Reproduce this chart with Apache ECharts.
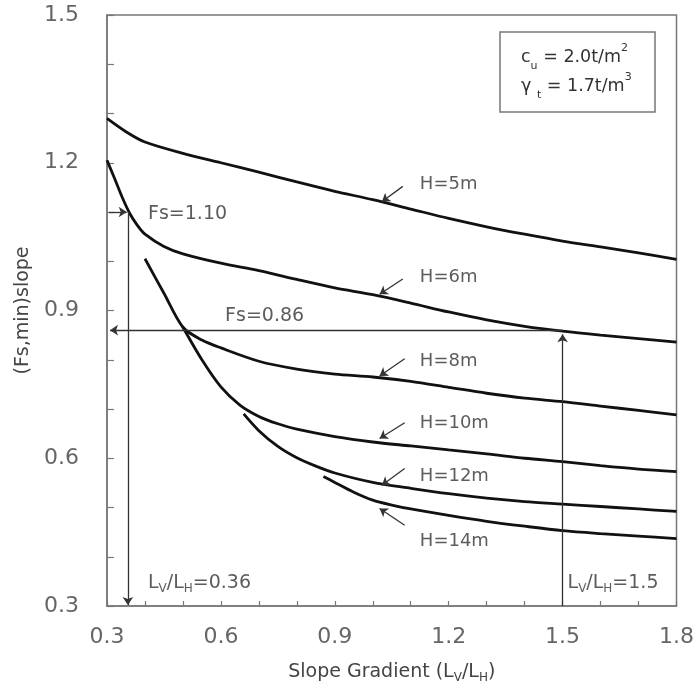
<!DOCTYPE html>
<html>
<head>
<meta charset="utf-8">
<script src="https://cdn.jsdelivr.net/npm/echarts@6/dist/echarts.min.js"></script>
<style>html,body{margin:0;padding:0;background:#fff}#c{width:697px;height:689px}</style>
</head>
<body>
<div id="c"></div>
<script>
// ---- data ----
const h5x = [0.3,0.35,0.4,0.5,0.6,0.7,0.8,0.9,1.0,1.1,1.2,1.3,1.4,1.5,1.6,1.7,1.8];
const h5y = [1.29,1.263,1.242,1.219,1.20,1.181,1.161,1.142,1.125,1.106,1.087,1.07,1.055,1.041,1.029,1.017,1.004];
const h6x = [0.3,0.32,0.34,0.36,0.38,0.4,0.45,0.5,0.6,0.7,0.8,0.9,1.0,1.1,1.2,1.3,1.4,1.5,1.6,1.7,1.8];
const h6y = [1.205,1.168,1.13,1.097,1.073,1.055,1.03,1.015,0.996,0.981,0.963,0.946,0.932,0.915,0.897,0.881,0.868,0.858,0.85,0.843,0.836];
const h8x = [0.4,0.45,0.5,0.55,0.6,0.7,0.8,0.9,1.0,1.1,1.2,1.3,1.4,1.5,1.6,1.7,1.8];
const h8y = [1.005,0.935,0.866,0.84,0.824,0.797,0.781,0.771,0.765,0.756,0.744,0.732,0.722,0.715,0.706,0.697,0.688];
const h10x = [0.5,0.55,0.6,0.65,0.7,0.75,0.8,0.9,1.0,1.1,1.2,1.3,1.4,1.5,1.6,1.7,1.8];
const h10y = [0.866,0.80,0.745,0.708,0.685,0.67,0.659,0.644,0.633,0.625,0.617,0.609,0.60,0.593,0.585,0.578,0.573];
const h12x = [0.66,0.7,0.75,0.8,0.85,0.9,1.0,1.1,1.2,1.3,1.4,1.5,1.6,1.7,1.8];
const h12y = [0.69,0.656,0.624,0.601,0.584,0.57,0.551,0.539,0.528,0.519,0.512,0.507,0.502,0.497,0.492];
const h14x = [0.87,0.9,0.95,1.0,1.05,1.1,1.2,1.3,1.4,1.5,1.6,1.7,1.8];
const h14y = [0.563,0.551,0.531,0.515,0.505,0.497,0.484,0.472,0.462,0.453,0.447,0.442,0.437];

const xTickLabels = ['0.3','0.6','0.9','1.2','1.5','1.8'];
const yTickLabels = ['0.3','0.6','0.9','1.2','1.5'];

// curve labels and their pointer arrows (data units)
const hLabels = ['H=5m','H=6m','H=8m','H=10m','H=12m','H=14m'];
const hLabelAt = [[1.124,1.156],[1.124,0.968],[1.124,0.796],[1.124,0.670],[1.124,0.563],[1.124,0.431]];
const hArrowFrom = [[1.079,1.152],[1.079,0.964],[1.084,0.802],[1.084,0.672],[1.084,0.579],[1.084,0.464]];
const hArrowTo = [[1.024,1.121],[1.018,0.933],[1.018,0.767],[1.018,0.640],[1.024,0.545],[1.018,0.498]];

// reading lines (Fs = 1.10 and Fs = 0.86)
const readFrom = [[0.305,1.10],[0.355,1.10],[1.5,0.30],[1.5,0.86]];
const readTo   = [[0.352,1.10],[0.355,0.302],[1.5,0.852],[0.308,0.86]];
const readLabels = ['Fs=1.10','Fs=0.86','L{s|V}/L{s|H}=0.36','L{s|V}/L{s|H}=1.5'];
const readLabelAt = [[0.408,1.096],[0.611,0.889],[0.408,0.346],[1.513,0.346]];

// ---- chart ----
const FONT = 'DejaVu Sans';
const curves = [[h5x,h5y],[h6x,h6y],[h8x,h8y],[h10x,h10y],[h12x,h12y],[h14x,h14y]];
const series = curves.map((c, i) => ({
  type: 'line',
  name: hLabels[i],
  data: c[0].map((x, j) => [x, c[1][j]]),
  smooth: 0.3,
  showSymbol: false,
  lineStyle: { color: '#111', width: 2.8 },
  z: 3
}));

const arrowLines = [];
hArrowFrom.forEach((p, i) => arrowLines.push([{ coord: p }, { coord: hArrowTo[i] }]));
readFrom.forEach((p, i) => arrowLines.push([{ coord: p }, { coord: readTo[i] }]));

const textItems = [];
hLabels.forEach((t, i) => textItems.push({ value: hLabelAt[i], label: { formatter: t, fontSize: 18 } }));
readLabels.forEach((t, i) => textItems.push({ value: readLabelAt[i], label: { formatter: t, fontSize: 19 } }));

series.push({
  type: 'scatter',
  name: 'annotations',
  data: textItems,
  symbolSize: 0,
  silent: true,
  label: {
    show: true, position: 'right', distance: 0,
    color: '#333', fontFamily: FONT, lineHeight: 24,
    rich: { s: { fontSize: 12, lineHeight: 12, verticalAlign: 'bottom', color: '#333', fontFamily: FONT } }
  },
  markLine: {
    silent: true,
    symbol: ['none', 'arrow'],
    symbolSize: 8,
    label: { show: false },
    lineStyle: { color: '#333', width: 1.3, type: 'solid' },
    data: arrowLines
  },
  z: 4
});

const fmt = v => { const k = Math.round(v * 10); return k % 3 === 0 ? (k / 10).toFixed(1) : ''; };

const chart = echarts.init(document.getElementById('c'));
chart.setOption({
  animation: false,
  backgroundColor: '#fff',
  title: {
    text: '{n|c}{s|u}{n| = 2.0t/m}{p|2}\n{n|γ }{s|t}{n| = 1.7t/m}{p|3}',
    left: 500, top: 32,
    padding: [11, 24, 11, 21],
    borderColor: '#777', borderWidth: 1.5,
    textStyle: {
      fontWeight: 'normal',
      rich: {
        n: { fontSize: 17.5, lineHeight: 29, color: '#333', fontFamily: FONT, fontWeight: 'normal' },
        s: { fontSize: 11, lineHeight: 11, verticalAlign: 'bottom', color: '#333', fontFamily: FONT, fontWeight: 'normal' },
        p: { fontSize: 11, lineHeight: 11, verticalAlign: 'top', color: '#333', fontFamily: FONT, fontWeight: 'normal' }
      }
    }
  },
  grid: { left: 107, right: 20, top: 15, bottom: 81, show: true, borderColor: '#777', borderWidth: 1.5 },
  xAxis: {
    type: 'value', min: 0.3, max: 1.8, interval: 0.1,
    axisLine: { show: true, lineStyle: { color: '#777', width: 1.5 } },
    axisTick: { show: true, inside: true, length: 5, lineStyle: { color: '#777', width: 1.2 } },
    axisLabel: { formatter: fmt, fontSize: 22, color: '#666', margin: 20, fontFamily: FONT, showMinLabel: true, showMaxLabel: true },
    splitLine: { show: false },
    name: 'Slope Gradient (L{s|V}/L{s|H})', nameLocation: 'middle', nameGap: 54,
    nameTextStyle: { fontSize: 19, color: '#444', fontFamily: FONT, lineHeight: 24,
      rich: { s: { fontSize: 12, lineHeight: 12, verticalAlign: 'bottom', color: '#444', fontFamily: FONT } } }
  },
  yAxis: {
    type: 'value', min: 0.3, max: 1.5, interval: 0.1,
    axisLine: { show: true, lineStyle: { color: '#777', width: 1.5 } },
    axisTick: { show: true, inside: true, length: 7, lineStyle: { color: '#777', width: 1.2 } },
    axisLabel: { formatter: fmt, fontSize: 22, color: '#666', margin: 28, fontFamily: FONT, showMinLabel: true, showMaxLabel: true },
    splitLine: { show: false },
    name: '(Fs,min)slope', nameLocation: 'middle', nameGap: 74,
    nameTextStyle: { fontSize: 19, color: '#444', fontFamily: FONT }
  },
  series: series
});
</script>
</body>
</html>
